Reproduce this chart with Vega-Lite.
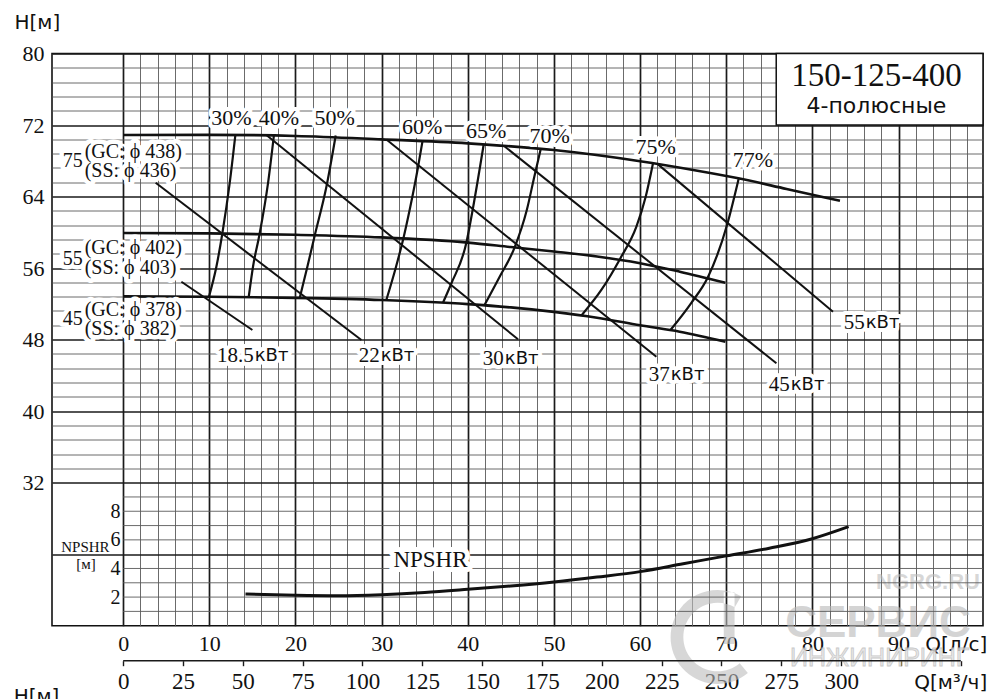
{
  "$schema": "https://vega.github.io/schema/vega-lite/v6.json",
  "width": 931,
  "height": 572.2,
  "autosize": {"type": "none"},
  "padding": {"left": 52, "top": 53.5, "right": 17, "bottom": 73.3},
  "background": "white",
  "config": {
    "view": {"stroke": "#111", "strokeWidth": 1.6},
    "text": {"font": "Liberation Serif", "fill": "#111"},
    "axis": {"labelColor": "#111", "titleColor": "#111", "titleFontWeight": "normal"}
  },
  "datasets": {
    "head": [
      {"c": "438", "q": 0, "h": 70.88}, {"c": "438", "q": 10, "h": 70.9}, {"c": "438", "q": 20, "h": 70.78},
      {"c": "438", "q": 30, "h": 70.4}, {"c": "438", "q": 40, "h": 69.95}, {"c": "438", "q": 50, "h": 69.2},
      {"c": "438", "q": 60, "h": 67.95}, {"c": "438", "q": 66, "h": 67.0}, {"c": "438", "q": 71.4, "h": 66.04},
      {"c": "438", "q": 77, "h": 64.85}, {"c": "438", "q": 83.2, "h": 63.53},
      {"c": "402", "q": 0, "h": 59.92}, {"c": "402", "q": 10, "h": 59.88}, {"c": "402", "q": 20, "h": 59.72},
      {"c": "402", "q": 30, "h": 59.43}, {"c": "402", "q": 40, "h": 58.85}, {"c": "402", "q": 45, "h": 58.35},
      {"c": "402", "q": 50, "h": 57.85}, {"c": "402", "q": 55, "h": 57.3}, {"c": "402", "q": 60, "h": 56.55},
      {"c": "402", "q": 64.6, "h": 55.6}, {"c": "402", "q": 69.9, "h": 54.36},
      {"c": "378", "q": 0, "h": 52.84}, {"c": "378", "q": 10, "h": 52.8}, {"c": "378", "q": 20, "h": 52.67},
      {"c": "378", "q": 30, "h": 52.43}, {"c": "378", "q": 40, "h": 51.97}, {"c": "378", "q": 45, "h": 51.6},
      {"c": "378", "q": 50, "h": 51.1}, {"c": "378", "q": 55, "h": 50.45}, {"c": "378", "q": 60, "h": 49.6},
      {"c": "378", "q": 64.6, "h": 48.88}, {"c": "378", "q": 69.9, "h": 47.76}
    ],
    "eff": [
      {"e": "30", "q": 13.02, "h": 70.88}, {"e": "30", "q": 12.36, "h": 65.48}, {"e": "30", "q": 11.51, "h": 59.87}, {"e": "30", "q": 10.82, "h": 56.15}, {"e": "30", "q": 9.96, "h": 52.8},
      {"e": "40", "q": 17.5, "h": 70.88}, {"e": "40", "q": 16.81, "h": 65.48}, {"e": "40", "q": 15.84, "h": 59.84}, {"e": "40", "q": 15.07, "h": 56.15}, {"e": "40", "q": 14.57, "h": 52.74},
      {"e": "50", "q": 24.67, "h": 70.83}, {"e": "50", "q": 23.59, "h": 65.1}, {"e": "50", "q": 22.23, "h": 59.62}, {"e": "50", "q": 21.38, "h": 56.15}, {"e": "50", "q": 20.49, "h": 52.66},
      {"e": "60", "q": 34.73, "h": 70.12}, {"e": "60", "q": 34.2, "h": 67.16}, {"e": "60", "q": 33.25, "h": 62.49}, {"e": "60", "q": 32.55, "h": 59.42}, {"e": "60", "q": 31.6, "h": 55.9}, {"e": "60", "q": 30.55, "h": 52.45},
      {"e": "65", "q": 41.85, "h": 69.85}, {"e": "65", "q": 40.42, "h": 61.74}, {"e": "65", "q": 39.84, "h": 58.86}, {"e": "65", "q": 38.1, "h": 54.3}, {"e": "65", "q": 37.12, "h": 52.13},
      {"e": "70", "q": 48.46, "h": 69.3}, {"e": "70", "q": 47.72, "h": 66.22}, {"e": "70", "q": 46.85, "h": 62.49}, {"e": "70", "q": 45.44, "h": 58.32}, {"e": "70", "q": 43.7, "h": 55.03}, {"e": "70", "q": 41.96, "h": 51.9},
      {"e": "75", "q": 61.5, "h": 67.72}, {"e": "75", "q": 60.65, "h": 63.98}, {"e": "75", "q": 59.57, "h": 60.63}, {"e": "75", "q": 57.7, "h": 57.08}, {"e": "75", "q": 55.5, "h": 53.55}, {"e": "75", "q": 53.19, "h": 50.7},
      {"e": "77", "q": 71.45, "h": 66.04}, {"e": "77", "q": 70.09, "h": 60.82}, {"e": "77", "q": 67.88, "h": 55.0}, {"e": "77", "q": 65.95, "h": 52.12}, {"e": "77", "q": 63.52, "h": 49.07}
    ],
    "power": [
      {"kw": "18.5", "q": 6.76, "h": 54.47}, {"kw": "18.5", "q": 15.0, "h": 49.07},
      {"kw": "22", "q": 3.77, "h": 65.55}, {"kw": "22", "q": 27.65, "h": 47.95},
      {"kw": "30", "q": 16.62, "h": 70.88}, {"kw": "30", "q": 45.83, "h": 48.03},
      {"kw": "37", "q": 30.55, "h": 70.38}, {"kw": "37", "q": 61.89, "h": 46.08},
      {"kw": "45", "q": 44.28, "h": 69.6}, {"kw": "45", "q": 75.82, "h": 45.35},
      {"kw": "55", "q": 62.08, "h": 67.6}, {"kw": "55", "q": 82.39, "h": 51.12}
    ],
    "npshr": [
      {"q": 14.2, "n": 2.22}, {"q": 20, "n": 2.13}, {"q": 25, "n": 2.1}, {"q": 30, "n": 2.17},
      {"q": 35, "n": 2.32}, {"q": 40, "n": 2.54}, {"q": 45, "n": 2.78}, {"q": 50, "n": 3.06},
      {"q": 55, "n": 3.4}, {"q": 60, "n": 3.78}, {"q": 65, "n": 4.33}, {"q": 70, "n": 4.88},
      {"q": 75, "n": 5.42}, {"q": 80, "n": 6.08}, {"q": 84.2, "n": 6.92}
    ],
    "effLabels": [
      {"label": "30%", "q": 12.56, "h": 72.75}, {"label": "40%", "q": 18.07, "h": 72.75},
      {"label": "50%", "q": 24.55, "h": 72.75}, {"label": "60%", "q": 34.71, "h": 71.81},
      {"label": "65%", "q": 42.14, "h": 71.36}, {"label": "70%", "q": 49.51, "h": 70.77},
      {"label": "75%", "q": 61.81, "h": 69.57}, {"label": "77%", "q": 73.1, "h": 68.09}
    ],
    "powerLabels": [
      {"num": "18.5", "unit": "кВт", "q": 15.15, "h": 46.2},
      {"num": "22", "unit": "кВт", "q": 29.77, "h": 46.2},
      {"num": "30", "unit": "кВт", "q": 44.18, "h": 45.85},
      {"num": "37", "unit": "кВт", "q": 63.44, "h": 44.0},
      {"num": "45", "unit": "кВт", "q": 77.37, "h": 42.93},
      {"num": "55", "unit": "кВт", "q": 86.07, "h": 49.83}
    ],
    "diamNums": [
      {"label": "75", "q": -5.86, "h": 67.95},
      {"label": "55", "q": -5.86, "h": 57.05},
      {"label": "45", "q": -5.86, "h": 50.25}
    ],
    "diamText": [
      {"label": "(GC: ϕ 438)", "q": -4.47, "h": 69.02}, {"label": "(SS: ϕ 436)", "q": -4.47, "h": 66.89},
      {"label": "(GC: ϕ 402)", "q": -4.47, "h": 58.21}, {"label": "(SS: ϕ 403)", "q": -4.47, "h": 55.97},
      {"label": "(GC: ϕ 378)", "q": -4.47, "h": 51.31}, {"label": "(SS: ϕ 382)", "q": -4.47, "h": 49.15}
    ]
  },
  "resolve": {"scale": {"y": "independent"}, "axis": {"x": "independent"}},
  "layer": [
    {
      "data": {"name": "head"},
      "mark": {"type": "line", "interpolate": "monotone", "strokeWidth": 2.6, "color": "#111"},
      "encoding": {
        "x": {"field": "q", "type": "quantitative", "scale": {"domain": [-8.26, 99.8], "nice": false, "zero": false},
          "axis": {"orient": "bottom",
            "values": [0, 2, 4, 6, 8, 10, 12, 14, 16, 18, 20, 22, 24, 26, 28, 30, 32, 34, 36, 38, 40, 42, 44, 46, 48, 50, 52, 54, 56, 58, 60, 62, 64, 66, 68, 70, 72, 74, 76, 78, 80, 82, 84, 86, 88, 90, 92, 94, 96, 98],
            "grid": true,
            "gridColor": {"condition": {"test": "datum.value % 10 === 0", "value": "#1a1a1a"}, "value": "#5a5a5a"},
            "gridWidth": {"condition": {"test": "datum.value % 10 === 0", "value": 1.7}, "value": 0.9},
            "ticks": false, "domain": false,
            "labelExpr": "datum.value % 10 === 0 && datum.value < 95 ? datum.label : ''",
            "labelFont": "Liberation Serif", "labelFontSize": 22, "labelBaseline": "alphabetic", "labelPadding": 25,
            "labelOverlap": false, "labelFlush": false,
            "title": "Q[л/с]", "titleFont": "DejaVu Sans", "titleFontSize": 20, "titleAlign": "right",
            "titleBaseline": "alphabetic", "titleX": 934.7, "titleY": 24.8}},
        "y": {"field": "h", "type": "quantitative", "scale": {"domain": [16, 80], "nice": false, "zero": false},
          "axis": {"orient": "left",
            "values": [24, 32, 33.6, 35.2, 36.8, 38.4, 40, 41.6, 43.2, 44.8, 46.4, 48, 49.6, 51.2, 52.8, 54.4, 56, 57.6, 59.2, 60.8, 62.4, 64, 65.6, 67.2, 68.8, 70.4, 72, 73.6, 75.2, 76.8, 78.4, 80],
            "grid": true,
            "gridColor": {"condition": {"test": "datum.value % 8 === 0", "value": "#1a1a1a"}, "value": "#5a5a5a"},
            "gridWidth": {"condition": {"test": "datum.value % 8 === 0", "value": 1.7}, "value": 0.9},
            "ticks": false, "domain": false,
            "labelExpr": "datum.value >= 32 && datum.value % 8 === 0 ? datum.label : ''",
            "labelFont": "Liberation Serif", "labelFontSize": 22, "labelPadding": 8,
            "labelOverlap": false, "labelFlush": false,
            "title": "H[м]", "titleFont": "DejaVu Sans", "titleFontSize": 20, "titleAngle": 0, "titleAlign": "left",
            "titleBaseline": "alphabetic", "titleX": -38, "titleY": -25.2}},
        "detail": {"field": "c"}
      }
    },
    {
      "data": {"values": [{"name": "logo", "q": 69.0, "n": -0.79}]},
      "mark": {"type": "point", "shape": "M0.5,-0.866A1,1 0 1,0 0.643,0.766L0.47,0.56A0.73,0.73 0 1,1 0.365,-0.632Z M0.13,-0.95L0.36,-0.95L0.36,0.15L0.13,0.15Z", "size": 8836, "filled": true, "color": "#bdbdbd", "opacity": 0.6},
      "encoding": {
        "x": {"field": "q", "type": "quantitative", "axis": null},
        "y": {"field": "n", "type": "quantitative", "scale": {"domain": [0, 40], "nice": false, "zero": false}, "axis": null}
      }
    },
    {
      "data": {"values": [{"label": "NGRG.RU", "q": 93.42, "n": 3.02}]},
      "mark": {"type": "text", "font": "Liberation Sans", "fontWeight": "bold", "fontSize": 22, "fill": "#bdbdbd", "opacity": 0.6},
      "encoding": {"x": {"field": "q", "type": "quantitative", "axis": null}, "y": {"field": "n", "type": "quantitative", "scale": {"domain": [0, 40], "nice": false, "zero": false}, "axis": null}, "text": {"field": "label"}}
    },
    {
      "data": {"values": [{"label": "СЕРВИС", "q": 87.61, "n": 0.12}]},
      "mark": {"type": "text", "font": "Liberation Sans", "fontWeight": "bold", "fontSize": 44, "fill": "#b8b8b8", "opacity": 0.6},
      "encoding": {"x": {"field": "q", "type": "quantitative", "axis": null}, "y": {"field": "n", "type": "quantitative", "scale": {"domain": [0, 40], "nice": false, "zero": false}, "axis": null}, "text": {"field": "label"}}
    },
    {
      "data": {"values": [{"label": "ИНЖИНИРИНГ", "q": 87.81, "n": -2.28}]},
      "mark": {"type": "text", "font": "Liberation Sans", "fontSize": 25, "fill": "#e2e2e2", "stroke": "#bcbcbc", "strokeWidth": 0.8, "opacity": 0.8},
      "encoding": {"x": {"field": "q", "type": "quantitative", "axis": null}, "y": {"field": "n", "type": "quantitative", "scale": {"domain": [0, 40], "nice": false, "zero": false}, "axis": null}, "text": {"field": "label"}}
    },
    {
      "data": {"values": [{"n": 1}, {"n": 2}, {"n": 3}, {"n": 4}, {"n": 6}, {"n": 7}, {"n": 8}, {"n": 9}]},
      "mark": {"type": "rule", "color": "#5a5a5a", "strokeWidth": 0.9},
      "encoding": {
        "x": {"datum": 0, "type": "quantitative", "axis": null},
        "x2": {"datum": 99.8},
        "y": {"field": "n", "type": "quantitative", "scale": {"domain": [0, 40], "nice": false, "zero": false}, "axis": null}
      }
    },
    {
      "data": {"name": "eff"},
      "mark": {"type": "line", "interpolate": "monotone", "strokeWidth": 2.2, "color": "#111"},
      "encoding": {"x": {"field": "q", "type": "quantitative", "axis": null}, "y": {"field": "h", "type": "quantitative", "scale": {"domain": [16, 80], "nice": false, "zero": false}, "axis": null}, "detail": {"field": "e"}}
    },
    {
      "data": {"name": "power"},
      "mark": {"type": "line", "strokeWidth": 2, "color": "#111"},
      "encoding": {"x": {"field": "q", "type": "quantitative", "axis": null}, "y": {"field": "h", "type": "quantitative", "scale": {"domain": [16, 80], "nice": false, "zero": false}, "axis": null}, "detail": {"field": "kw"}}
    },
    {
      "data": {"values": [{"line": "м³/ч"}]},
      "mark": {"type": "rule", "color": "#1a1a1a", "strokeWidth": 1.6},
      "encoding": {
        "x": {"datum": 0, "type": "quantitative", "axis": null},
        "x2": {"datum": 97.22},
        "y": {"datum": 12.085, "type": "quantitative", "scale": {"domain": [16, 80], "nice": false, "zero": false}, "axis": null}
      }
    },
    {
      "data": {"name": "npshr"},
      "mark": {"type": "line", "interpolate": "monotone", "strokeWidth": 3, "color": "#111"},
      "encoding": {
        "x": {"field": "q", "type": "quantitative",
          "axis": {"orient": "bottom", "offset": 35,
            "values": [0, 6.9444, 13.8889, 20.8333, 27.7778, 34.7222, 41.6667, 48.6111, 55.5556, 62.5, 69.4444, 76.3889, 83.3333, 90.2778, 97.2222],
            "grid": false, "domain": false,
            "ticks": true, "tickSize": 5, "tickColor": "#1a1a1a", "tickWidth": 1.4,
            "labelExpr": "datum.value < 85 ? format(datum.value * 3.6, '.0f') : ''",
            "labelFont": "Liberation Serif", "labelFontSize": 23, "labelBaseline": "alphabetic", "labelPadding": 22.6,
            "labelOverlap": false, "labelFlush": false,
            "title": "Q[м³/ч]", "titleFont": "DejaVu Sans", "titleFontSize": 20, "titleAlign": "right",
            "titleBaseline": "alphabetic", "titleX": 934.7, "titleY": 27.6}},
        "y": {"field": "n", "type": "quantitative", "scale": {"domain": [0, 40], "nice": false, "zero": false},
          "axis": {"orient": "left", "offset": -71.5, "values": [2, 4, 6, 8], "grid": false, "ticks": false, "domain": false,
            "labelFont": "Liberation Serif", "labelFontSize": 20, "labelPadding": 3.5, "title": null}}
      }
    },
    {
      "data": {"values": [{"label": "NPSHR", "q": 35.67, "n": 4.62}]},
      "mark": {"type": "text", "fontSize": 23, "fill": "white", "stroke": "white", "strokeWidth": 10, "strokeJoin": "round"},
      "encoding": {"x": {"field": "q", "type": "quantitative", "axis": null}, "y": {"field": "n", "type": "quantitative", "scale": {"domain": [0, 40], "nice": false, "zero": false}, "axis": null}, "text": {"field": "label"}}
    },
    {
      "data": {"values": [{"label": "NPSHR", "q": 35.67, "n": 4.62}]},
      "mark": {"type": "text", "fontSize": 23},
      "encoding": {"x": {"field": "q", "type": "quantitative", "axis": null}, "y": {"field": "n", "type": "quantitative", "scale": {"domain": [0, 40], "nice": false, "zero": false}, "axis": null}, "text": {"field": "label"}}
    },
    {
      "data": {"values": [{"label": "NPSHR", "q": -4.38, "n": 5.53}, {"label": "[м]", "q": -4.32, "n": 4.31}]},
      "mark": {"type": "text", "fontSize": 15},
      "encoding": {"x": {"field": "q", "type": "quantitative", "axis": null}, "y": {"field": "n", "type": "quantitative", "scale": {"domain": [0, 40], "nice": false, "zero": false}, "axis": null}, "text": {"field": "label"}}
    },
    {
      "data": {"values": [{"box": "150-125-400"}]},
      "mark": {"type": "rect", "fill": "white", "stroke": "#111", "strokeWidth": 1.5},
      "encoding": {
        "x": {"datum": 75.8, "type": "quantitative", "axis": null}, "x2": {"datum": 99.8},
        "y": {"datum": 72, "type": "quantitative", "scale": {"domain": [16, 80], "nice": false, "zero": false}, "axis": null}, "y2": {"datum": 80}
      }
    },
    {
      "data": {"values": [{"label": "150-125-400", "q": 87.43, "h": 77.51}]},
      "mark": {"type": "text", "fontSize": 33},
      "encoding": {"x": {"field": "q", "type": "quantitative", "axis": null}, "y": {"field": "h", "type": "quantitative", "scale": {"domain": [16, 80], "nice": false, "zero": false}, "axis": null}, "text": {"field": "label"}}
    },
    {
      "data": {"values": [{"label": "4-полюсные", "q": 87.43, "h": 74.15}]},
      "mark": {"type": "text", "font": "DejaVu Sans", "fontSize": 22},
      "encoding": {"x": {"field": "q", "type": "quantitative", "axis": null}, "y": {"field": "h", "type": "quantitative", "scale": {"domain": [16, 80], "nice": false, "zero": false}, "axis": null}, "text": {"field": "label"}}
    },
    {
      "data": {"name": "effLabels"},
      "mark": {"type": "text", "fontSize": 22, "fill": "white", "stroke": "white", "strokeWidth": 8, "strokeJoin": "round"},
      "encoding": {"x": {"field": "q", "type": "quantitative", "axis": null}, "y": {"field": "h", "type": "quantitative", "scale": {"domain": [16, 80], "nice": false, "zero": false}, "axis": null}, "text": {"field": "label"}}
    },
    {
      "data": {"name": "effLabels"},
      "mark": {"type": "text", "fontSize": 22},
      "encoding": {"x": {"field": "q", "type": "quantitative", "axis": null}, "y": {"field": "h", "type": "quantitative", "scale": {"domain": [16, 80], "nice": false, "zero": false}, "axis": null}, "text": {"field": "label"}}
    },
    {
      "data": {"name": "powerLabels"},
      "mark": {"type": "text", "fontSize": 21, "align": "right", "fill": "white", "stroke": "white", "strokeWidth": 8, "strokeJoin": "round"},
      "encoding": {"x": {"field": "q", "type": "quantitative", "axis": null}, "y": {"field": "h", "type": "quantitative", "scale": {"domain": [16, 80], "nice": false, "zero": false}, "axis": null}, "text": {"field": "num"}}
    },
    {
      "data": {"name": "powerLabels"},
      "mark": {"type": "text", "font": "DejaVu Sans", "fontSize": 18, "align": "left", "dx": 1, "fill": "white", "stroke": "white", "strokeWidth": 8, "strokeJoin": "round"},
      "encoding": {"x": {"field": "q", "type": "quantitative", "axis": null}, "y": {"field": "h", "type": "quantitative", "scale": {"domain": [16, 80], "nice": false, "zero": false}, "axis": null}, "text": {"field": "unit"}}
    },
    {
      "data": {"name": "powerLabels"},
      "mark": {"type": "text", "fontSize": 21, "align": "right"},
      "encoding": {"x": {"field": "q", "type": "quantitative", "axis": null}, "y": {"field": "h", "type": "quantitative", "scale": {"domain": [16, 80], "nice": false, "zero": false}, "axis": null}, "text": {"field": "num"}}
    },
    {
      "data": {"name": "powerLabels"},
      "mark": {"type": "text", "font": "DejaVu Sans", "fontSize": 18, "align": "left", "dx": 1},
      "encoding": {"x": {"field": "q", "type": "quantitative", "axis": null}, "y": {"field": "h", "type": "quantitative", "scale": {"domain": [16, 80], "nice": false, "zero": false}, "axis": null}, "text": {"field": "unit"}}
    },
    {
      "data": {"name": "diamText"},
      "mark": {"type": "text", "fontSize": 20, "align": "left", "fill": "white", "stroke": "white", "strokeWidth": 9, "strokeJoin": "round"},
      "encoding": {"x": {"field": "q", "type": "quantitative", "axis": null}, "y": {"field": "h", "type": "quantitative", "scale": {"domain": [16, 80], "nice": false, "zero": false}, "axis": null}, "text": {"field": "label"}}
    },
    {
      "data": {"name": "diamNums"},
      "mark": {"type": "text", "fontSize": 20, "fill": "white", "stroke": "white", "strokeWidth": 9, "strokeJoin": "round"},
      "encoding": {"x": {"field": "q", "type": "quantitative", "axis": null}, "y": {"field": "h", "type": "quantitative", "scale": {"domain": [16, 80], "nice": false, "zero": false}, "axis": null}, "text": {"field": "label"}}
    },
    {
      "data": {"name": "diamText"},
      "mark": {"type": "text", "fontSize": 20, "align": "left"},
      "encoding": {"x": {"field": "q", "type": "quantitative", "axis": null}, "y": {"field": "h", "type": "quantitative", "scale": {"domain": [16, 80], "nice": false, "zero": false}, "axis": null}, "text": {"field": "label"}}
    },
    {
      "data": {"name": "diamNums"},
      "mark": {"type": "text", "fontSize": 20},
      "encoding": {"x": {"field": "q", "type": "quantitative", "axis": null}, "y": {"field": "h", "type": "quantitative", "scale": {"domain": [16, 80], "nice": false, "zero": false}, "axis": null}, "text": {"field": "label"}}
    },
    {
      "data": {"values": [{"label": "H[м]", "q": -12.71, "h": 7.39}]},
      "mark": {"type": "text", "font": "DejaVu Sans", "fontSize": 20, "align": "left", "baseline": "alphabetic"},
      "encoding": {"x": {"field": "q", "type": "quantitative", "axis": null}, "y": {"field": "h", "type": "quantitative", "scale": {"domain": [16, 80], "nice": false, "zero": false}, "axis": null}, "text": {"field": "label"}}
    }
  ]
}
